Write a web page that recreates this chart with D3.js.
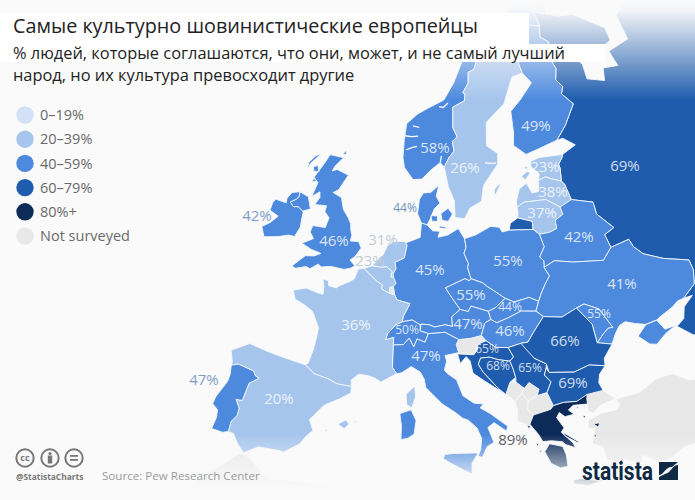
<!DOCTYPE html>
<html>
<head>
<meta charset="utf-8">
<script src="https://cdnjs.cloudflare.com/ajax/libs/d3/7.8.5/d3.min.js"></script>
<style>
html, body { margin: 0; padding: 0; background: #fafafa; }
svg { display: block; font-family: "Open Sans", "Noto Sans", sans-serif; }
</style>
</head>
<body>
<svg width="695" height="500"></svg>
<script>
// survey results
var countries = ["Russia", "United Kingdom", "Ireland", "Norway", "Sweden", "Finland", "Estonia", "Latvia", "Lithuania",
    "Belarus", "Denmark", "Netherlands", "Belgium", "Germany", "Poland", "Czechia", "Slovakia", "Ukraine", "Moldova",
    "Austria", "Hungary", "Switzerland", "Italy", "Croatia", "Bosnia", "Serbia", "Romania", "Bulgaria", "Greece",
    "France", "Spain", "Portugal"]
var shares = [69, 46, 42, 58, 26, 49, 23, 38, 37, 42, 44, 31, 23, 45, 55, 55, 44, 41, 55, 47, 46, 50, 47, 65, 68, 65, 66, 69, 89, 36, 20, 47]
var notSurveyed = ["Luxembourg", "Slovenia", "Montenegro", "Kosovo", "Albania", "Macedonia", "Turkey", "Africa"]

var legendLabels = ["0–19%", "20–39%", "40–59%", "60–79%", "80%+", "Not surveyed"]
var legendColors = ["#d2e1f6", "#a6c5ed", "#4d8ade", "#1f5cae", "#0d2b58", "#e8e8e8"]
var colorBreaks = [20, 40, 60, 80]

// outlines, lon/lat rings
var shapes = {
    "Ireland": [[[-7.3,55.05],[-7.5,54.8],[-8.15,54.45],[-7.6,54.2],[-7,54.3],[-6.3,54.1],[-6.2,54],[-6.1,53.35],[-6,52.95],[-6.35,52.17],[-7.1,52.13],[-8.2,51.8],[-9.8,51.45],[-10.45,52.1],[-9.7,52.55],[-9,53.2],[-10.2,53.4],[-10.2,54],[-10,54.3],[-8.6,54.3],[-8.7,54.65],[-8.3,55.15],[-7.4,55.38]]],
    "United Kingdom": [
        [[1.4,51.15],[0.7,51.5],[1.2,51.8],[1.75,52.5],[1.3,52.93],[0.3,52.85],[0.35,53.3],[0.1,53.6],[-0.1,54.1],[-0.6,54.5],[-1.4,55],[-2,55.8],[-3.2,56],[-2.6,56.3],[-2.05,57.15],[-1.8,57.5],[-3.5,57.7],[-4.1,57.5],[-3.9,57.9],[-3.05,58.65],[-5,58.6],[-5.4,57.9],[-5.8,57.3],[-6.2,56.7],[-5.5,56.4],[-5.75,55.3],[-4.9,55.8],[-4.7,55.4],[-5.1,54.8],[-3.6,54.95],[-3.6,54.5],[-2.9,54.15],[-3.05,53.4],[-4.6,53.3],[-4.7,52.8],[-4.1,52.4],[-5.3,51.85],[-4,51.6],[-2.8,51.5],[-3.5,51.2],[-4.5,51.05],[-5.7,50.05],[-5.2,49.97],[-4.1,50.3],[-3.6,50.22],[-2.8,50.7],[-2.4,50.55],[-1.3,50.75],[0.25,50.74],[0.97,50.92]],
        [[-7.4,55.38],[-7.3,55.05],[-7.5,54.8],[-8.15,54.45],[-7.6,54.2],[-7,54.3],[-6.3,54.1],[-5.45,54.4],[-5.7,54.7],[-6.15,55.22]],
        [[-7.4,57.1],[-7.2,57.6],[-6.2,58.5],[-6.9,58.2],[-7.5,57.6]],
        [[-6.5,57.1],[-5.8,57.2],[-6.2,57.6],[-6.7,57.4]],
        [[-6.3,56.3],[-5.7,56.5],[-6.2,56.6]],
        [[-3.3,58.9],[-2.8,58.9],[-3,59.2]]
    ],
    "France": [
        [[2.5,51.08],[3.2,50.75],[4.2,50.3],[4.85,50.1],[4.85,49.8],[5.8,49.55],[6.4,49.5],[6.7,49.15],[8.2,48.97],[7.6,48],[7.55,47.6],[6.9,47.35],[6.1,46.6],[6,46.15],[6.8,46.4],[6.85,45.85],[6.9,45.2],[7,44.2],[7.5,43.78],[7.2,43.65],[6,43.05],[5.3,43.3],[4.5,43.4],[3.7,43.4],[3.05,42.9],[3.15,42.43],[1.7,42.45],[0.7,42.7],[-0.7,42.85],[-1.75,43.35],[-1.5,43.5],[-1.25,44.6],[-1.2,45.6],[-1.2,46.2],[-2.2,47.25],[-3.1,47.55],[-4.35,47.8],[-4.8,48.4],[-3.5,48.8],[-2,48.65],[-1.5,48.65],[-1.6,49.25],[-1.9,49.72],[-1.25,49.7],[-1.1,49.35],[-0.2,49.3],[0.1,49.5],[1.1,49.93],[1.6,50.2],[1.85,50.95]],
        [[9.4,43],[9.55,42.2],[9.25,41.4],[8.75,41.6],[8.6,42.35]]
    ],
    "Spain": [
        [[-1.75,43.35],[-3.8,43.48],[-5.7,43.6],[-7.7,43.78],[-9.3,42.9],[-8.85,42.1],[-8.85,41.87],[-8.2,42.1],[-6.6,41.95],[-6.3,41.65],[-5.9,41.55],[-6.7,41],[-6.8,40.35],[-6.9,39.65],[-7.5,39.6],[-7,39.05],[-7,38.5],[-7.4,37.95],[-7.4,37.18],[-6.9,37.15],[-6.3,36.5],[-5.6,36],[-4.4,36.7],[-2.4,36.8],[-2.1,36.75],[-0.8,37.6],[-0.3,38.3],[0.2,38.75],[-0.3,39.5],[0.85,40.75],[2.2,41.4],[3.2,41.95],[3.15,42.43],[1.7,42.45],[0.7,42.7],[-0.7,42.85]],
        [[2.4,39.55],[3.1,39.95],[3.45,39.7],[3.05,39.3]],
        [[3.85,40],[4.3,39.9],[3.9,39.9]],
        [[1.3,38.95],[1.6,39.05],[1.4,38.85]]
    ],
    "Portugal": [[[-8.85,41.87],[-8.2,42.1],[-6.6,41.95],[-6.3,41.65],[-5.9,41.55],[-6.7,41],[-6.8,40.35],[-6.9,39.65],[-7.5,39.6],[-7,39.05],[-7,38.5],[-7.4,37.95],[-7.4,37.18],[-7.9,37],[-8.95,37.02],[-8.8,37.9],[-8.9,38.45],[-9.5,38.78],[-9.4,39.35],[-8.75,40.65],[-8.7,41.2]]],
    "Italy": [
        [[7.5,43.78],[7,44.2],[6.9,45.2],[6.85,45.85],[7.9,45.95],[8.45,46.45],[9,45.85],[9.3,46.45],[10.15,46.25],[10.45,46.9],[11.15,46.95],[12.2,47.05],[13.7,46.55],[13.45,46.2],[13.6,45.8],[13.75,45.6],[12.3,45.35],[12.5,44.95],[12.3,44.3],[12.6,44.05],[13.55,43.6],[14.2,42.45],[15.3,41.9],[16.2,41.85],[15.9,41.55],[16.9,41.1],[18.5,40.15],[18.35,39.8],[17.2,40.45],[16.6,40.1],[17.15,39],[16.5,38.7],[16.05,37.92],[15.65,38],[15.9,38.5],[16,39.3],[15.6,40.05],[14.75,40.65],[14.2,40.8],[13.5,41.2],[12.2,41.8],[10.5,42.95],[10.3,43.55],[9.85,44.05],[8.9,44.4],[8,43.9]],
        [[15.65,38.25],[15.1,37.5],[15.1,36.7],[14.2,37.05],[13.1,37.5],[12.45,37.8],[12.6,38.1],[13.4,38.2]],
        [[9.2,41.25],[9.75,40.5],[9.65,39.5],[9.1,39.15],[8.45,39],[8.4,40],[8.15,40.9]]
    ],
    "Switzerland": [[[6,46.15],[6.1,46.6],[6.9,47.35],[7.55,47.6],[8.6,47.8],[9.5,47.5],[9.55,47.05],[10.45,46.9],[10.15,46.25],[9.3,46.45],[9,45.85],[8.45,46.45],[7.9,45.95],[6.85,45.85],[6.8,46.4]]],
    "Austria": [[[9.55,47.05],[9.6,47.55],[10.45,47.55],[11.1,47.4],[12.2,47.6],[13,47.5],[12.9,48.2],[13.8,48.75],[14.7,48.6],[15,49],[16.9,48.6],[17.15,48],[16.5,47.75],[16.1,46.85],[15,46.65],[13.7,46.55],[12.2,47.05],[11.15,46.95],[10.45,46.9]]],
    "Germany": [[[7,53.35],[8.7,53.85],[8.7,54.9],[9.45,54.8],[10.2,54.4],[11.1,54.4],[10.9,53.95],[12.1,54.15],[13.4,54.65],[14.2,53.92],[14.4,53.3],[14.15,52.85],[14.7,52.1],[14.6,51.8],[15,51],[14.8,50.85],[14.3,51],[12.1,50.3],[12.5,49.9],[13.8,48.75],[12.9,48.2],[13,47.5],[12.2,47.6],[11.1,47.4],[10.45,47.55],[9.6,47.55],[9.5,47.5],[8.6,47.8],[7.55,47.6],[7.6,48],[8.2,48.97],[6.7,49.15],[6.4,49.5],[6.15,50.1],[6.4,50.35],[6.05,50.75],[5.95,51],[6.2,51.4],[6,51.85],[7.05,52.25],[7.2,53.2]]],
    "Netherlands": [[[7.2,53.2],[6.9,53.45],[5.5,53.35],[4.8,52.95],[4.5,52.3],[4.1,52],[3.4,51.4],[4.4,51.35],[5.1,51.45],[5.8,51.15],[5.7,50.75],[6.05,50.75],[5.95,51],[6.2,51.4],[6,51.85],[7.05,52.25]]],
    "Belgium": [[[3.4,51.37],[2.5,51.08],[3.2,50.75],[4.2,50.3],[4.85,50.1],[4.85,49.8],[5.8,49.55],[5.75,50],[6.15,50.1],[6.4,50.35],[6.05,50.75],[5.7,50.75],[5.8,51.15],[5.1,51.45],[4.4,51.35]]],
    "Luxembourg": [[[5.8,49.55],[6.4,49.5],[6.15,50.1],[5.75,50]]],
    "Denmark": [
        [[8.7,54.9],[8.1,55.55],[8.15,56.6],[8.6,57.1],[9.6,57.2],[10.6,57.75],[10.35,56.95],[10.9,56.45],[10.2,56],[9.8,55.3],[9.45,54.8]],
        [[11.1,55.7],[12,56.1],[12.6,55.7],[12.1,55.15],[11.3,55.2]],
        [[9.85,55.5],[10.7,55.5],[10.7,55.1],[10,55.1]],
        [[11,54.8],[12,54.7],[11.7,54.6],[11,54.65]]
    ],
    "Norway": [[[11.2,59.1],[11.8,59.8],[12.5,60.3],[12.2,61],[12.9,61.35],[12.2,62],[12.1,63],[12,63.5],[13.9,64],[14,64.5],[13.6,64.6],[14.5,65.3],[14.5,66.1],[15.5,66.3],[16.5,67.5],[18.1,68.5],[20.1,69],[20.6,69.1],[21.3,69.3],[23.7,68.7],[25.7,69.3],[28.9,69],[28.4,70.1],[30.8,69.78],[31,70.3],[28,71.1],[25.7,71.1],[22,70.3],[19,69.8],[15,68.5],[13,66.5],[12,65.3],[10.5,64],[8,63.3],[6.5,62.8],[5,62],[5,60.8],[5.2,59.5],[5.6,58.8],[7,58],[8.2,58.1],[9.5,58.9],[10.6,59.4]]],
    "Sweden": [
        [[11.2,59.1],[11.9,57.7],[12.8,56.65],[12.95,55.45],[14.2,55.38],[14.85,56.15],[16.4,56.65],[16.7,57.8],[18.8,59.3],[18.9,60.1],[17.3,60.7],[17.4,62.4],[20.4,63.7],[21.3,64.7],[22.2,65.6],[24.1,65.8],[23.7,66.5],[24,67.4],[23.5,67.9],[20.6,69.1],[20.1,69],[18.1,68.5],[16.5,67.5],[15.5,66.3],[14.5,66.1],[14.5,65.3],[13.6,64.6],[14,64.5],[13.9,64],[12,63.5],[12.1,63],[12.2,62],[12.9,61.35],[12.2,61],[12.5,60.3],[11.8,59.8]],
        [[18.1,57],[18.4,57.2],[19.1,57.9],[18.7,57.8],[18.2,57.5]]
    ],
    "Finland": [[[24.1,65.8],[25.4,65],[23.1,63.85],[21.4,63.1],[21.5,61.5],[21.3,60.6],[23,59.85],[25,60.15],[27.8,60.55],[29.5,61.5],[31.5,62.9],[30,63.8],[30.5,64.3],[29.6,64.9],[30.1,65.7],[29.1,66.9],[30,67.7],[28.5,68.2],[28.9,69],[25.7,69.3],[23.7,68.7],[21.3,69.3],[20.6,69.1],[23.5,67.9],[24,67.4],[23.7,66.5]]],
    "Estonia": [
        [[28.2,59.45],[24.8,59.5],[23.5,59.3],[23.5,58.9],[24.5,58.35],[24.3,57.87],[25.3,58.05],[26,57.85],[27.35,57.55],[27.5,58.5],[27.4,58.8],[28,59.2]],
        [[22,58.3],[22.9,58.6],[23.3,58.5],[22.5,58]],
        [[22.4,58.9],[23,59],[22.9,58.75]]
    ],
    "Latvia": [[[24.3,57.87],[24.1,57.05],[23.2,57],[22.6,57.75],[21.55,57.4],[21,56.5],[21.05,56.07],[22,56.4],[24.9,56.4],[26.6,55.7],[28.2,56.1],[27.7,57.3],[27.35,57.55],[26,57.85],[25.3,58.05]]],
    "Lithuania": [[[21.05,56.07],[21.1,55.7],[21,55.3],[22.8,54.95],[22.8,54.35],[23.5,53.95],[24.8,54],[25.75,54.2],[25.7,54.8],[26.8,55.15],[26.6,55.7],[24.9,56.4],[22,56.4]]],
    "Poland": [[[14.2,53.92],[15.6,54.2],[17.5,54.8],[18.6,54.7],[18.9,54.35],[19.8,54.45],[22.8,54.35],[23.5,53.95],[23.9,53],[23.2,52.3],[23.65,52],[23.6,51.5],[24.1,50.85],[23.5,50.3],[22.9,49.6],[22.55,49.1],[21.5,49.45],[20.9,49.35],[19.8,49.2],[18.85,49.5],[17.8,50],[16.9,50.4],[16.3,50.7],[15,51],[14.6,51.8],[14.7,52.1],[14.15,52.85],[14.4,53.3]]],
    "Czechia": [[[12.1,50.3],[14.3,51],[14.8,50.85],[15,51],[16.3,50.7],[16.9,50.4],[17.8,50],[18.85,49.5],[17.7,48.85],[16.9,48.6],[15,49],[14.7,48.6],[13.8,48.75],[12.5,49.9]]],
    "Slovakia": [[[16.9,48.6],[17.7,48.85],[18.85,49.5],[19.8,49.2],[20.9,49.35],[21.5,49.45],[22.55,49.1],[22.15,48.4],[20.5,48.5],[19,48.05],[17.8,47.75],[17.15,48]]],
    "Hungary": [[[17.15,48],[17.8,47.75],[19,48.05],[20.5,48.5],[22.15,48.4],[22.9,47.95],[21.7,46.9],[21,46.2],[20.25,46.15],[18.9,45.9],[17.6,45.95],[16.6,46.45],[16.1,46.85],[16.5,47.75]]],
    "Slovenia": [[[13.7,46.55],[15,46.65],[16.1,46.85],[16.6,46.45],[15.7,46.2],[15.7,45.85],[15.3,45.45],[13.6,45.5],[13.75,45.6],[13.6,45.8],[13.45,46.2]]],
    "Croatia": [[[16.6,46.45],[17.6,45.95],[18.9,45.9],[19.4,45.2],[19,44.9],[17.8,45.05],[16.9,45.25],[16,45.2],[15.75,44.75],[16.2,44.2],[17.3,43.3],[17.7,42.95],[18.5,42.45],[16.4,43.5],[15.2,44.1],[14.9,45],[14.5,45.3],[13.9,44.8],[13.6,45.5],[15.3,45.45],[15.7,45.85],[15.7,46.2]]],
    "Bosnia": [[[16,45.2],[16.9,45.25],[17.8,45.05],[19,44.9],[19.3,44.3],[19.5,43.7],[18.9,43.35],[18.5,42.6],[18.5,42.45],[17.7,42.95],[17.3,43.3],[16.2,44.2],[15.75,44.75]]],
    "Serbia": [[[18.9,45.9],[20.25,46.15],[21,46.2],[21.5,45],[22.7,44.5],[22.65,44.2],[22.4,43.7],[23,43.15],[22.5,42.4],[21.5,42.25],[21.75,42.7],[20.8,43.25],[20.3,42.85],[19.5,43.35],[19.5,43.7],[19.3,44.3],[19,44.9],[19.4,45.2]]],
    "Montenegro": [[[18.5,42.45],[18.5,42.6],[18.9,43.35],[19.5,43.35],[20.3,42.85],[20,42.5],[19.3,41.9],[18.9,42.25]]],
    "Kosovo": [[[20,42.5],[20.3,42.85],[20.8,43.25],[21.75,42.7],[21.5,42.25],[20.6,41.9]]],
    "Albania": [[[19.3,41.9],[20,42.5],[20.6,41.9],[20.5,41.3],[21,40.85],[20.6,40.2],[20.5,40.1],[19.4,40.5],[19.5,41.3]]],
    "Macedonia": [[[20.6,41.9],[21.5,42.25],[22.5,42.4],[23,41.4],[22.7,41.15],[21,40.85],[20.5,41.3]]],
    "Romania": [[[20.25,46.15],[21,46.2],[21.7,46.9],[22.9,47.95],[24.9,47.75],[26.6,48.25],[28,46.9],[28.2,45.5],[29.7,45.2],[28.65,44.3],[28.6,43.75],[27,44],[25.4,43.65],[22.9,43.85],[22.7,44.5],[21.5,45]]],
    "Moldova": [[[26.6,48.25],[27.5,48.45],[29,47.9],[30.1,46.4],[29.6,46.4],[28.9,46],[28.2,45.5],[28,46.9]]],
    "Bulgaria": [[[22.9,43.85],[25.4,43.65],[27,44],[28.6,43.75],[27.9,43.2],[27.7,42.6],[28,42],[26.4,41.9],[26.3,41.6],[25.3,41.5],[24,41.55],[23,41.4],[22.5,42.4],[23,43.15],[22.4,43.7],[22.65,44.2]]],
    "Greece": [
        [[26.4,41.9],[26.3,41.6],[26.3,41.2],[24.9,41.25],[24.4,40.95],[24.9,40.6],[24,40.5],[23.5,40.85],[23.2,40.5],[23.8,39.7],[23.5,39.4],[24.5,38.5],[24.65,38.15],[23.8,38.45],[23.5,38.7],[22.5,38.85],[21.7,38.85],[21.35,39.4],[20.6,40.2],[21,40.85],[22.7,41.15],[23,41.4],[24,41.55],[25.3,41.5]],
        [[23.5,38.35],[23.75,37.7],[23.8,36.85],[23.1,36.8],[22.3,37.2],[21.8,38.1],[22.3,38.65]],
        [[24.15,35.8],[24.8,35.85],[26.3,35.55],[26.9,35.5],[25.4,35.25],[24.2,35.5]],
        [[23.6,39.4],[25.1,38.5],[24.9,38.5],[23.8,39.1]],
        [[26.6,39.7],[27.2,39.7],[27,39.4]],[[26.5,38.9],[26.75,38.9],[26.6,38.65]],[[25.7,40.4],[26,40.35],[25.8,40.2]],
        [[25.2,41.1],[25.4,41.1],[25.3,40.95]],[[20.3,40.15],[20.65,40.05],[20.5,39.85]],[[21.05,38.8],[21.3,38.7],[21.15,38.5]],
        [[21.3,38.25],[21.55,38.2],[21.4,38.05]],[[28.35,36.6],[28.85,36.85],[28.5,36.3]]
    ],
    "Ukraine": [
        [[23.6,51.5],[24.9,51.9],[27,51.6],[30.6,51.3],[31.8,52.1],[34.1,52.35],[34.4,51.75],[35.3,51.05],[37.4,50.3],[40.1,49.6],[40.2,48.8],[39.8,47.85],[38.2,47.1],[37.5,47.05],[36.8,46.75],[35.2,46.3],[34.8,46.15],[33.6,46.05],[32.5,46.3],[31.5,46.6],[30.8,46.4],[30.2,45.85],[29.7,45.2],[28.2,45.5],[28.9,46],[29.6,46.4],[30.1,46.4],[29,47.9],[27.5,48.45],[26.6,48.25],[24.9,47.75],[22.9,47.95],[22.15,48.4],[22.55,49.1],[22.9,49.6],[23.5,50.3],[24.1,50.85]],
        [[33.6,46.05],[34.8,46.15],[35.4,45.35],[36.6,45.4],[35.4,45.05],[34.2,44.45],[33.5,44.6],[32.5,45.35]]
    ],
    "Belarus": [[[23.5,53.95],[23.9,53],[23.2,52.3],[23.65,52],[23.6,51.5],[24.9,51.9],[27,51.6],[30.6,51.3],[31.8,52.1],[31.4,53.1],[32.7,53.45],[31,54.7],[30.9,55.6],[28.2,56.1],[26.6,55.7],[26.8,55.15],[25.7,54.8],[25.75,54.2],[24.8,54]]],
    "Russia": [
        [[28.2,59.45],[30.3,59.95],[28.7,60.6],[27.8,60.55],[29.5,61.5],[31.5,62.9],[30,63.8],[30.5,64.3],[29.6,64.9],[30.1,65.7],[29.1,66.9],[30,67.7],[28.5,68.2],[28.9,69],[28.4,70.1],[30.8,69.78],[33,69.4],[36,69.2],[41,67.5],[41,66.5],[38,66.1],[32.5,67.1],[34.8,65.5],[34.8,64.4],[37.5,63.9],[38,64.8],[40.5,64.6],[40,65.8],[44,66.1],[44,68],[46,68.5],[60,69],[70,60],[70,40],[48,42],[40,43.5],[38,44.4],[36.7,45.3],[37.6,45.7],[38,46.5],[39.2,47.1],[38.2,47.1],[39.8,47.85],[40.2,48.8],[40.1,49.6],[37.4,50.3],[35.3,51.05],[34.4,51.75],[34.1,52.35],[31.8,52.1],[31.4,53.1],[32.7,53.45],[31,54.7],[30.9,55.6],[28.2,56.1],[27.7,57.3],[27.35,57.55],[27.5,58.5],[27.4,58.8],[28,59.2]],
        [[21,55.3],[20,54.95],[19.8,54.45],[22.8,54.35],[22.8,54.95]]
    ],
    "Turkey": [
        [[26.4,41.9],[28,42],[29,41.25],[27.5,41],[26.7,40.5],[26.3,40.7],[26.3,41.2],[26.3,41.6]],
        [[29.1,41.2],[31.4,41.3],[33.3,42],[35,42.05],[36.4,41.3],[38,41],[41.5,41.5],[43,41],[44,39.5],[44.5,37.5],[42,37],[36,36.5],[36,36.8],[34.5,36.7],[33,36.1],[32,36.1],[30.6,36.8],[30.4,36.25],[29.1,36.7],[28.2,36.7],[27.4,37],[27.2,37.9],[26.3,38.3],[26.7,39.3],[26.1,39.5],[26.2,40],[27.5,40.35],[29,40.4],[29.4,40.8]]
    ],
    "Africa": [[[-6,35.8],[-5.4,35.9],[-3,34.6],[-1,34.8],[3,35],[7,34.9],[9.8,35.1],[11,34.8],[10.5,34],[10,33],[15,32.3],[20,32.5],[25,31.5],[32,31.2],[32,28],[-10,28],[-10,32]]]
}

// fjords and inlets, drawn over the land
var inlets = [
    [[5,61.1],[6,61.1],[7,61.2]],
    [[5.5,60.1],[6.3,60.3],[7,60.45]],
    [[6,61.9],[7,61.85]],
    [[9.8,63.5],[10.5,63.45],[11.2,63.8]],
    [[10.6,59.4],[10.7,59.9]],
    [[18.6,59.4],[17.8,59.4],[17,59.45]],
    [[14.5,67.8],[16.5,68.4]]
]

var labelPos = {
    "United Kingdom": [334,241], "Ireland": [257,216], "Norway": [435,148], "Sweden": [465,168], "Finland": [536,126],
    "Estonia": [545,167], "Latvia": [553,192], "Lithuania": [542,213], "Belarus": [579,237], "Russia": [625,166],
    "Denmark": [405,208], "Netherlands": [383,240], "Belgium": [370,261], "Germany": [430,270], "Poland": [508,261],
    "Czechia": [471,295], "Slovakia": [510,307], "Ukraine": [622,284], "Moldova": [599,314], "Austria": [468,324],
    "Hungary": [510,331], "Switzerland": [407,330], "Italy": [426,356], "Croatia": [487,349], "Bosnia": [498,366],
    "Serbia": [530,368], "Romania": [565,341], "Bulgaria": [573,383], "Greece": [513,440], "France": [356,325],
    "Spain": [279,399], "Portugal": [204,380]
}
var smallLabels = ["Switzerland", "Croatia", "Bosnia", "Serbia", "Moldova", "Slovakia"]
var outsideLabels = { "Ireland": "#7f9fc4", "Portugal": "#7f9fc4", "Denmark": "#6f93bd", "Netherlands": "#c4ccd6", "Belgium": "#c4ccd6", "Greece": "#5a6068" }

var svg = d3.select("svg"),
    width = +svg.attr("width"),
    height = +svg.attr("height")

svg.append("rect").attr("width", width).attr("height", height).attr("fill", "#fafafa")

var projection = d3.geoAzimuthalEqualArea()
    .rotate([-15, -52])
    .scale(785)
    .translate([471, 265])
    .clipAngle(90)

var ringLine = d3.line()
    .x(d => projection(d)[0])
    .y(d => projection(d)[1])
    .curve(d3.curveLinearClosed)

var openLine = d3.line()
    .x(d => projection(d)[0])
    .y(d => projection(d)[1])

var color = d3.scaleThreshold().domain(colorBreaks).range(legendColors.slice(0, 5))
var grey = legendColors[5]

// grey land first, surveyed countries on top
var map = svg.append("g")
map.selectAll("path.grey")
    .data(notSurveyed)
    .enter().append("path")
    .attr("class", "grey")
    .attr("d", d => shapes[d].map(ringLine).join(""))
    .attr("fill", grey)
    .attr("stroke", d => (d == "Turkey" || d == "Africa") ? "none" : "#fafafa")
    .attr("stroke-width", 0.8)

map.selectAll("path.land")
    .data(countries)
    .enter().append("path")
    .attr("class", "land")
    .attr("d", d => shapes[d].map(ringLine).join(""))
    .attr("fill", (d, i) => color(shares[i]))
    .attr("stroke", "#f4f7fb")
    .attr("stroke-width", 0.9)
    .attr("stroke-linejoin", "round")

map.selectAll("path.inlet")
    .data(inlets)
    .enter().append("path")
    .attr("class", "inlet")
    .attr("d", openLine)
    .attr("fill", "none")
    .attr("stroke", "#fafafa")
    .attr("stroke-width", 1.3)

// fades at top and bottom of the map
var defs = svg.append("defs")
var topFade = defs.append("linearGradient").attr("id", "topFade").attr("x1", 0).attr("y1", 0).attr("x2", 0).attr("y2", 1)
topFade.append("stop").attr("offset", "0%").attr("stop-color", "#fafafa").attr("stop-opacity", 1)
topFade.append("stop").attr("offset", "10%").attr("stop-color", "#fafafa").attr("stop-opacity", 0.97)
topFade.append("stop").attr("offset", "100%").attr("stop-color", "#fafafa").attr("stop-opacity", 0)
var bottomFade = defs.append("linearGradient").attr("id", "bottomFade").attr("x1", 0).attr("y1", 0).attr("x2", 0).attr("y2", 1)
bottomFade.append("stop").attr("offset", "0%").attr("stop-color", "#fafafa").attr("stop-opacity", 0)
bottomFade.append("stop").attr("offset", "100%").attr("stop-color", "#fafafa").attr("stop-opacity", 1)

svg.append("rect").attr("width", width).attr("height", 100).attr("fill", "url(#topFade)")
svg.append("rect").attr("y", 435).attr("width", width).attr("height", 55).attr("fill", "url(#bottomFade)")
svg.append("rect").attr("y", 490).attr("width", width).attr("height", 10).attr("fill", "#fafafa")

// value labels
svg.append("g").selectAll("text")
    .data(countries)
    .enter().append("text")
    .attr("x", d => labelPos[d][0])
    .attr("y", d => labelPos[d][1])
    .attr("text-anchor", "middle")
    .attr("dy", "0.36em")
    .attr("font-size", d => smallLabels.includes(d) ? 12 : (d == "Denmark" ? 12 : 15))
    .attr("fill", d => outsideLabels[d] || "rgba(255,255,255,0.8)")
    .text((d, i) => shares[i] + "%")

// title boxes
svg.append("rect").attr("x", 0).attr("y", 13).attr("width", 529).attr("height", 31).attr("fill", "#fff")
svg.append("rect").attr("x", 0).attr("y", 44).attr("width", 605).attr("height", 18).attr("fill", "#fff")
svg.append("text").attr("x", 13).attr("y", 33).attr("font-size", 19.8).attr("fill", "#222").text("Самые культурно шовинистические европейцы")
svg.append("text").attr("x", 13).attr("y", 59).attr("font-size", 16.4).attr("fill", "#222").text("% людей, которые соглашаются, что они, может, и не самый лучший")
svg.append("text").attr("x", 13).attr("y", 81).attr("font-size", 16.4).attr("fill", "#222").text("народ, но их культура превосходит другие")

// legend
var legendY = d3.scalePoint().domain(legendLabels).range([115, 236])
var legend = svg.append("g").selectAll("g")
    .data(legendLabels)
    .enter().append("g")
    .attr("transform", d => "translate(25," + legendY(d) + ")")
legend.append("circle").attr("r", 8.7).attr("fill", (d, i) => legendColors[i])
legend.append("text").attr("x", 15).attr("dy", "0.36em").attr("font-size", 14.5).attr("fill", "#6a6a6a").text(d => d)

// footer
var ccIcons = [25, 50, 74]
var cc = svg.append("g").selectAll("circle").data(ccIcons).enter()
cc.append("circle").attr("cx", d => d).attr("cy", 458).attr("r", 8.7).attr("fill", "none").attr("stroke", "#777").attr("stroke-width", 2)
svg.append("text").attr("x", 25).attr("y", 461).attr("text-anchor", "middle").attr("font-size", 9).attr("font-weight", 700).attr("fill", "#777").text("cc")
svg.append("circle").attr("cx", 50).attr("cy", 453.5).attr("r", 1.6).attr("fill", "#777")
svg.append("rect").attr("x", 47.8).attr("y", 455.5).attr("width", 4.4).attr("height", 8).attr("fill", "#777")
svg.append("rect").attr("x", 70).attr("y", 455).attr("width", 8).attr("height", 1.8).attr("fill", "#777")
svg.append("rect").attr("x", 70).attr("y", 459).attr("width", 8).attr("height", 1.8).attr("fill", "#777")
svg.append("text").attr("x", 16).attr("y", 480).attr("font-size", 8.4).attr("font-weight", 700).attr("fill", "#777").text("@StatistaCharts")
svg.append("text").attr("x", 102).attr("y", 480).attr("font-size", 11.6).attr("fill", "#9a9a9a").text("Source: Pew Research Center")

// statista logo
svg.append("text").attr("x", 582).attr("y", 480).attr("font-family", "Roboto, sans-serif").attr("font-size", 25).attr("font-weight", 700)
    .attr("textLength", 71).attr("lengthAdjust", "spacingAndGlyphs").attr("fill", "#0f2a45").text("statista")
svg.append("rect").attr("x", 659).attr("y", 462).attr("width", 19).attr("height", 18).attr("fill", "#0f2a45")
svg.append("path").attr("d", "M659 475 C664 475 665 467 672 467 L678 462 L678 465 C672 465 671 473 665 474 L659 477 Z").attr("fill", "#fafafa")
</script>
</body>
</html>
